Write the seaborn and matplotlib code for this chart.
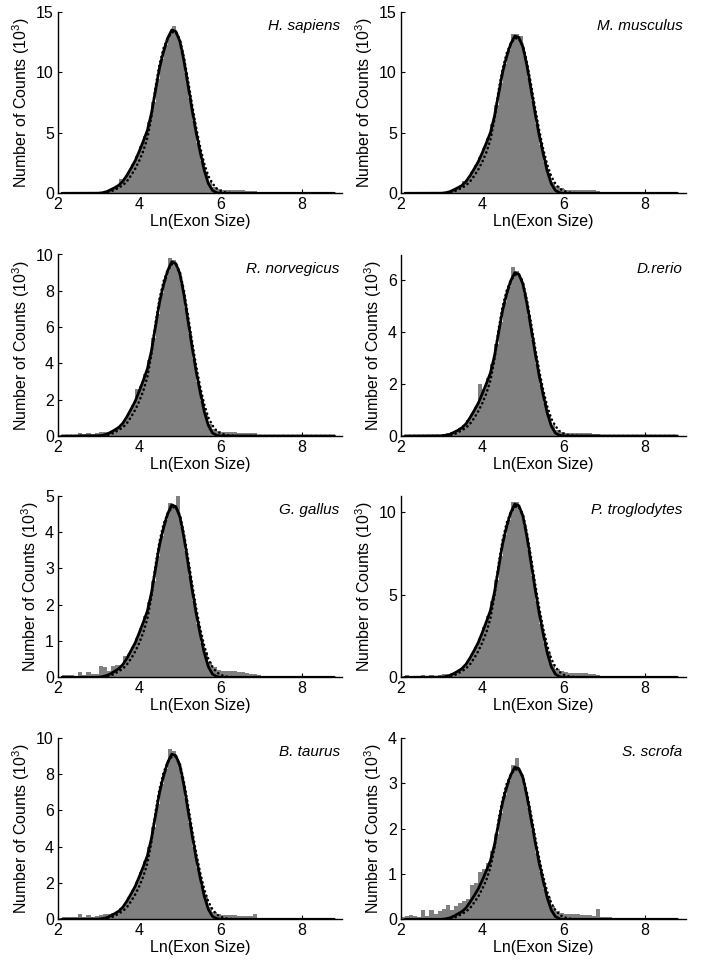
import numpy as np
import pandas as pd
import matplotlib
matplotlib.use("Agg")
import matplotlib.pyplot as plt
import seaborn as sns

# ---------------- data (counts in units of 10^3) ----------------
SPECIES = ["H. sapiens", "M. musculus", "R. norvegicus", "D.rerio",
           "G. gallus", "P. troglodytes", "B. taurus", "S. scrofa"]

Y_MAX = [15, 15, 10, 7, 5, 11, 10, 4]
Y_TICKS = [[0, 5, 10, 15], [0, 5, 10, 15], [0, 2, 4, 6, 8, 10], [0, 2, 4, 6],
           [0, 1, 2, 3, 4, 5], [0, 5, 10], [0, 2, 4, 6, 8, 10], [0, 1, 2, 3, 4]]
X_TICKS = [2, 4, 6, 8]

# histogram bins: left edge 2.0, width 0.1, 65 bins (2.0 .. 8.5)
BIN_START = 2.0
BIN_WIDTH = 0.1
N_BINS = 65

# x positions where the two fitted curves were read
CURVE_X = [2.1] + [round(3.0 + 0.1 * i, 1) for i in range(35)] + [8.8]

BARS_HSA = [0.04, 0.04, 0.04, 0.04, 0.04, 0.04, 0.04, 0.04, 0.04, 0.04,
            0.09, 0.14, 0.27, 0.43, 0.62, 1.15, 1.30, 1.80, 2.39, 3.09,
            3.90, 4.77, 5.91, 7.56, 9.45, 11.07, 12.29, 13.14, 13.80, 12.96,
            11.75, 9.92, 7.90, 5.94, 4.19, 2.70, 1.75, 0.95, 0.55, 0.37,
            0.30, 0.29, 0.28, 0.27, 0.26, 0.25, 0.23, 0.21, 0.20, 0.08,
            0.05, 0.05, 0.04, 0.04, 0.04, 0.03, 0.03, 0.03, 0.03, 0.03,
            0.02, 0.02, 0.02, 0.02, 0.02]
SOLID_HSA = [0, 0.01, 0.05, 0.14, 0.30, 0.47, 0.68, 1.01, 1.51, 2.09, 2.70,
             3.48, 4.32, 5.21, 6.62, 8.51, 10.40, 11.75, 12.83, 13.50, 13.37,
             12.56, 10.94, 8.91, 6.89, 5.00, 3.38, 1.89, 0.81, 0.24, 0.05,
             0, 0, 0, 0, 0, 0]
DOTTED_HSA = [0, 0, 0.01, 0.05, 0.14, 0.30, 0.47, 0.68, 1.01, 1.49, 2.03,
              2.70, 3.51, 4.59, 6.35, 8.78, 10.67, 12.02, 12.83, 13.30, 13.30,
              12.69, 11.21, 9.32, 7.29, 5.40, 3.78, 2.43, 1.42, 0.81, 0.41,
              0.20, 0.09, 0.04, 0.01, 0, 0]

BARS_MMU = [0.04, 0.04, 0.04, 0.04, 0.04, 0.04, 0.04, 0.04, 0.04, 0.04,
            0.08, 0.13, 0.25, 0.40, 0.60, 1.00, 1.21, 1.73, 2.30, 2.98,
            3.76, 4.59, 5.69, 7.28, 9.10, 10.66, 11.83, 13.20, 13.20, 13.00,
            11.31, 9.56, 7.61, 5.72, 4.03, 2.60, 1.70, 0.95, 0.58, 0.40,
            0.30, 0.30, 0.29, 0.28, 0.27, 0.26, 0.25, 0.24, 0.22, 0.08,
            0.05, 0.05, 0.04, 0.04, 0.04, 0.03, 0.03, 0.03, 0.03, 0.03,
            0.03, 0.02, 0.02, 0.02, 0.02]
SOLID_MMU = [0, 0.01, 0.05, 0.13, 0.29, 0.46, 0.65, 0.98, 1.46, 2.02, 2.60,
             3.35, 4.16, 5.02, 6.37, 8.19, 10.01, 11.31, 12.35, 13.00, 12.87,
             12.09, 10.53, 8.58, 6.63, 4.81, 3.25, 1.82, 0.78, 0.23, 0.05,
             0, 0, 0, 0, 0, 0]
DOTTED_MMU = [0, 0, 0.01, 0.05, 0.13, 0.29, 0.46, 0.65, 0.98, 1.43, 1.95,
              2.60, 3.38, 4.42, 6.11, 8.45, 10.27, 11.57, 12.35, 12.81, 12.81,
              12.22, 10.79, 8.97, 7.02, 5.20, 3.64, 2.34, 1.37, 0.78, 0.39,
              0.20, 0.09, 0.04, 0.01, 0, 0]

BARS_RNO = [0.05, 0.08, 0.08, 0.06, 0.05, 0.18, 0.10, 0.15, 0.12, 0.15,
            0.20, 0.20, 0.22, 0.30, 0.45, 0.60, 0.90, 1.28, 1.70, 2.60,
            2.77, 3.39, 4.20, 5.38, 6.72, 7.87, 8.74, 9.80, 9.70, 9.22,
            8.35, 7.06, 5.62, 4.22, 2.98, 1.92, 1.26, 0.68, 0.39, 0.26,
            0.22, 0.21, 0.20, 0.20, 0.19, 0.18, 0.18, 0.17, 0.17, 0.05,
            0.04, 0.04, 0.03, 0.03, 0.03, 0.03, 0.02, 0.02, 0.02, 0.02,
            0.02, 0.02, 0.02, 0.01, 0.01]
SOLID_RNO = [0, 0.01, 0.04, 0.10, 0.21, 0.34, 0.48, 0.72, 1.08, 1.49, 1.92,
             2.48, 3.07, 3.71, 4.70, 6.05, 7.39, 8.35, 9.12, 9.60, 9.50,
             8.93, 7.78, 6.34, 4.90, 3.55, 2.40, 1.34, 0.58, 0.17, 0.04,
             0, 0, 0, 0, 0, 0]
DOTTED_RNO = [0, 0, 0.01, 0.04, 0.10, 0.21, 0.34, 0.48, 0.72, 1.06, 1.44,
              1.92, 2.50, 3.26, 4.51, 6.24, 7.58, 8.54, 9.12, 9.46, 9.46,
              9.02, 7.97, 6.62, 5.18, 3.84, 2.69, 1.73, 1.01, 0.58, 0.29,
              0.14, 0.07, 0.03, 0.01, 0, 0]

BARS_DRE = [0.03, 0.03, 0.04, 0.03, 0.04, 0.03, 0.04, 0.04, 0.05, 0.05,
            0.06, 0.10, 0.15, 0.20, 0.30, 0.42, 0.60, 0.84, 1.12, 2.00,
            1.82, 2.22, 2.76, 3.53, 4.41, 5.17, 5.73, 6.50, 6.35, 6.10,
            5.48, 4.63, 3.69, 2.77, 1.95, 1.26, 0.79, 0.42, 0.23, 0.14,
            0.12, 0.12, 0.11, 0.11, 0.10, 0.10, 0.10, 0.09, 0.09, 0.04,
            0.03, 0.03, 0.03, 0.02, 0.02, 0.02, 0.02, 0.02, 0.02, 0.02,
            0.02, 0.01, 0.01, 0.01, 0.01]
SOLID_DRE = [0, 0.01, 0.03, 0.06, 0.14, 0.22, 0.32, 0.47, 0.71, 0.98, 1.26,
             1.63, 2.02, 2.43, 3.09, 3.97, 4.85, 5.48, 5.99, 6.30, 6.24,
             5.86, 5.10, 4.16, 3.21, 2.33, 1.58, 0.88, 0.38, 0.11, 0.03,
             0, 0, 0, 0, 0, 0]
DOTTED_DRE = [0, 0, 0.01, 0.03, 0.06, 0.14, 0.22, 0.32, 0.47, 0.69, 0.95,
              1.26, 1.64, 2.14, 2.96, 4.10, 4.98, 5.61, 5.99, 6.21, 6.21,
              5.92, 5.23, 4.35, 3.40, 2.52, 1.76, 1.13, 0.66, 0.38, 0.19,
              0.09, 0.04, 0.02, 0.01, 0, 0]

BARS_GGA = [0.02, 0.05, 0.05, 0.05, 0.04, 0.15, 0.05, 0.15, 0.08, 0.10,
            0.30, 0.28, 0.18, 0.30, 0.35, 0.35, 0.60, 0.63, 0.84, 1.09,
            1.37, 1.68, 2.08, 2.66, 3.33, 3.90, 4.32, 4.80, 4.75, 5.00,
            4.13, 3.49, 2.78, 2.09, 1.47, 0.95, 0.70, 0.42, 0.28, 0.21,
            0.17, 0.17, 0.16, 0.16, 0.15, 0.14, 0.13, 0.10, 0.08, 0.05,
            0.04, 0.03, 0.03, 0.03, 0.02, 0.02, 0.02, 0.02, 0.02, 0.02,
            0.02, 0.02, 0.01, 0.01, 0.01]
SOLID_GGA = [0, 0, 0.02, 0.05, 0.10, 0.17, 0.24, 0.36, 0.53, 0.74, 0.95,
             1.23, 1.52, 1.83, 2.33, 2.99, 3.66, 4.13, 4.51, 4.75, 4.70,
             4.42, 3.85, 3.14, 2.42, 1.76, 1.19, 0.67, 0.29, 0.09, 0.02,
             0, 0, 0, 0, 0, 0]
DOTTED_GGA = [0, 0, 0, 0.02, 0.05, 0.10, 0.17, 0.24, 0.36, 0.52, 0.71,
              0.95, 1.24, 1.62, 2.23, 3.09, 3.75, 4.23, 4.51, 4.68, 4.68,
              4.47, 3.94, 3.28, 2.57, 1.90, 1.33, 0.86, 0.50, 0.29, 0.14,
              0.07, 0.03, 0.01, 0, 0, 0]

BARS_PTR = [0.10, 0.15, 0.10, 0.08, 0.06, 0.12, 0.08, 0.12, 0.10, 0.15,
            0.20, 0.22, 0.25, 0.30, 0.45, 0.65, 0.98, 1.40, 1.86, 2.40,
            3.03, 3.71, 4.60, 5.88, 7.35, 8.61, 9.56, 10.60, 10.60, 10.08,
            9.14, 7.72, 6.14, 4.62, 3.26, 2.10, 1.46, 0.83, 0.51, 0.36,
            0.30, 0.29, 0.28, 0.27, 0.26, 0.25, 0.23, 0.20, 0.15, 0.10,
            0.07, 0.06, 0.05, 0.05, 0.04, 0.04, 0.03, 0.03, 0.03, 0.03,
            0.03, 0.02, 0.02, 0.02, 0.02]
SOLID_PTR = [0, 0.01, 0.04, 0.11, 0.23, 0.37, 0.53, 0.79, 1.18, 1.63, 2.10,
             2.71, 3.36, 4.05, 5.15, 6.62, 8.09, 9.14, 9.98, 10.50, 10.40,
             9.77, 8.51, 6.93, 5.36, 3.89, 2.63, 1.47, 0.63, 0.19, 0.04,
             0, 0, 0, 0, 0, 0]
DOTTED_PTR = [0, 0, 0.01, 0.04, 0.11, 0.23, 0.37, 0.53, 0.79, 1.16, 1.58,
              2.10, 2.73, 3.57, 4.94, 6.83, 8.30, 9.35, 9.98, 10.34, 10.34,
              9.87, 8.72, 7.25, 5.67, 4.20, 2.94, 1.89, 1.10, 0.63, 0.32,
              0.16, 0.07, 0.03, 0.01, 0, 0]

BARS_BTA = [0.05, 0.15, 0.12, 0.10, 0.10, 0.28, 0.10, 0.25, 0.12, 0.20,
            0.25, 0.30, 0.28, 0.35, 0.42, 0.60, 0.85, 1.21, 1.61, 2.08,
            2.63, 3.21, 3.99, 5.10, 6.37, 7.46, 8.28, 9.40, 9.30, 8.74,
            7.92, 6.69, 5.32, 4.00, 2.82, 1.82, 1.24, 0.70, 0.42, 0.29,
            0.24, 0.23, 0.22, 0.21, 0.20, 0.19, 0.18, 0.17, 0.30, 0.06,
            0.04, 0.04, 0.03, 0.03, 0.03, 0.02, 0.02, 0.02, 0.02, 0.02,
            0.02, 0.02, 0.02, 0.01, 0.01]
SOLID_BTA = [0, 0.01, 0.04, 0.09, 0.20, 0.32, 0.46, 0.68, 1.02, 1.41, 1.82,
             2.35, 2.91, 3.51, 4.46, 5.73, 7.01, 7.92, 8.65, 9.10, 9.01,
             8.46, 7.37, 6.01, 4.64, 3.37, 2.28, 1.27, 0.55, 0.16, 0.04,
             0, 0, 0, 0, 0, 0]
DOTTED_BTA = [0, 0, 0.01, 0.04, 0.09, 0.20, 0.32, 0.46, 0.68, 1.00, 1.37,
              1.82, 2.37, 3.09, 4.28, 5.92, 7.19, 8.10, 8.65, 8.96, 8.96,
              8.55, 7.55, 6.28, 4.91, 3.64, 2.55, 1.64, 0.96, 0.55, 0.27,
              0.14, 0.06, 0.03, 0.01, 0, 0]

BARS_SSC = [0.05, 0.08, 0.10, 0.08, 0.06, 0.20, 0.08, 0.20, 0.12, 0.18,
            0.22, 0.32, 0.20, 0.30, 0.35, 0.40, 0.45, 0.75, 0.80, 1.05,
            1.10, 1.25, 1.50, 1.88, 2.35, 2.75, 3.05, 3.40, 3.55, 3.22,
            2.91, 2.46, 1.96, 1.47, 1.04, 0.67, 0.49, 0.29, 0.19, 0.14,
            0.12, 0.12, 0.11, 0.11, 0.10, 0.10, 0.09, 0.08, 0.22, 0.05,
            0.04, 0.04, 0.03, 0.03, 0.02, 0.02, 0.02, 0.01, 0.01, 0.01,
            0.01, 0.01, 0.01, 0.01, 0.01]
SOLID_SSC = [0, 0, 0.01, 0.03, 0.07, 0.12, 0.17, 0.25, 0.38, 0.52, 0.67,
             0.86, 1.07, 1.29, 1.64, 2.11, 2.58, 2.91, 3.18, 3.35, 3.32,
             3.12, 2.71, 2.21, 1.71, 1.24, 0.84, 0.47, 0.20, 0.06, 0.01,
             0, 0, 0, 0, 0, 0]
DOTTED_SSC = [0, 0, 0, 0.01, 0.03, 0.07, 0.12, 0.17, 0.25, 0.37, 0.50,
              0.67, 0.87, 1.14, 1.57, 2.18, 2.65, 2.98, 3.18, 3.30, 3.30,
              3.15, 2.78, 2.31, 1.81, 1.34, 0.94, 0.60, 0.35, 0.20, 0.10,
              0.05, 0.02, 0.01, 0, 0, 0]

BARS = [BARS_HSA, BARS_MMU, BARS_RNO, BARS_DRE, BARS_GGA, BARS_PTR, BARS_BTA, BARS_SSC]
SOLID = [SOLID_HSA, SOLID_MMU, SOLID_RNO, SOLID_DRE, SOLID_GGA, SOLID_PTR, SOLID_BTA, SOLID_SSC]
DOTTED = [DOTTED_HSA, DOTTED_MMU, DOTTED_RNO, DOTTED_DRE, DOTTED_GGA, DOTTED_PTR, DOTTED_BTA, DOTTED_SSC]

# ---------------- style ----------------
sns.set_theme(style="ticks")
plt.rcParams["font.family"] = ["Liberation Sans", "DejaVu Sans"]
plt.rcParams["mathtext.fontset"] = "custom"
plt.rcParams["mathtext.rm"] = "Liberation Sans"
plt.rcParams["mathtext.it"] = "Liberation Sans:italic"
plt.rcParams["mathtext.default"] = "regular"
plt.rcParams["axes.edgecolor"] = "black"
plt.rcParams["xtick.color"] = "black"
plt.rcParams["ytick.color"] = "black"
plt.rcParams["text.color"] = "black"
plt.rcParams["axes.labelcolor"] = "black"

W, H = 703, 963
fig = plt.figure(figsize=(W / 100, H / 100), dpi=100)
fig.patch.set_facecolor("white")

col_left = [58 / W, 401 / W]
ax_w = 284.5 / W
row_zero_px = [193.3, 436.0, 677.3, 919.3]
ax_h = 181.5 / H

edges = np.round(BIN_START + BIN_WIDTH * np.arange(N_BINS + 1), 2)
centers = edges[:-1] + BIN_WIDTH / 2

FS = 11.5
for i, sp in enumerate(SPECIES):
    row, col = divmod(i, 2)
    ax = fig.add_axes([col_left[col], (H - row_zero_px[row]) / H, ax_w, ax_h])
    ax.set_facecolor("white")

    hist_df = pd.DataFrame({"x": centers, "count": BARS[i]})
    curve_df = pd.DataFrame({"x": CURVE_X, "solid": SOLID[i], "dotted": DOTTED[i]})

    sns.histplot(data=hist_df, x="x", weights="count", bins=list(edges), ax=ax,
                 color="#808080", alpha=1.0, edgecolor="none", linewidth=0)
    sns.lineplot(data=curve_df, x="x", y="dotted", ax=ax, color="black", linewidth=1.9,
                 linestyle=(0, (0.05, 1.7)), dash_capstyle="round")
    sns.lineplot(data=curve_df, x="x", y="solid", ax=ax, color="black", linewidth=2.0)

    ax.set_xlim(2, 9)
    ax.set_ylim(0, Y_MAX[i])
    ax.set_xticks(X_TICKS)
    ax.set_yticks(Y_TICKS[i])
    sns.despine(ax=ax)
    for s in ("left", "bottom"):
        ax.spines[s].set_linewidth(1.0)
        ax.spines[s].set_color("black")
    ax.tick_params(direction="in", length=3, width=0.8, pad=3, labelsize=FS)
    ax.set_xlabel("Ln(Exon Size)", fontsize=FS, labelpad=1)
    ax.set_ylabel("Number of Counts (10$^3$)", fontsize=FS, labelpad=3)
    ax.text(0.99, 0.92, sp, transform=ax.transAxes, ha="right", va="center",
            style="italic", fontsize=11)

fig.savefig("out.png", dpi=100, facecolor="white")
